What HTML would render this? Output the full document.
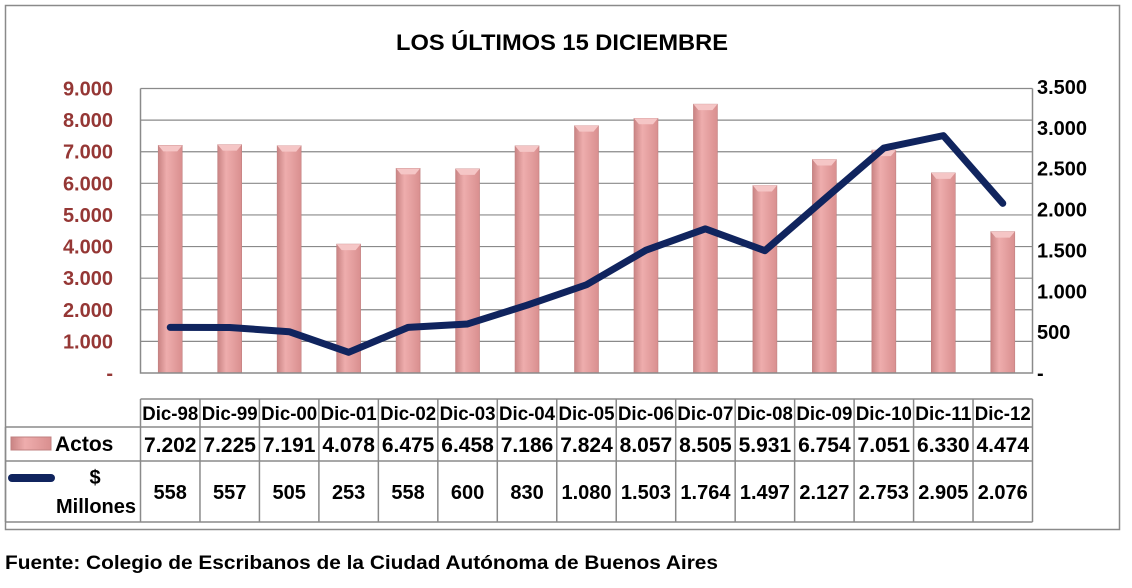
<!DOCTYPE html>
<html><head><meta charset="utf-8"><style>
body{margin:0;background:#fff;font-family:"Liberation Sans",sans-serif;}
</style></head><body>
<svg id="c" width="1132" height="583" xmlns="http://www.w3.org/2000/svg" font-family="Liberation Sans, sans-serif" font-weight="bold">
<defs>
<linearGradient id="bg" x1="0" x2="1" y1="0" y2="0">
<stop offset="0" stop-color="#c98383"/><stop offset="0.35" stop-color="#eeadad"/><stop offset="1" stop-color="#d98f8f"/>
</linearGradient>
</defs>
<rect x="5.5" y="5.5" width="1114" height="524" fill="#fff" stroke="#8a8a8a" stroke-width="1.5"/>
<text x="396" y="50" font-size="22" textLength="332" lengthAdjust="spacingAndGlyphs" fill="#000">LOS ÚLTIMOS 15 DICIEMBRE</text>
<g id="grid"></g><g id="bars"></g><g id="line"></g><g id="axes"></g><g id="table"></g>
<text x="5" y="569" font-size="19" textLength="713" lengthAdjust="spacingAndGlyphs" fill="#000">Fuente: Colegio de Escribanos de la Ciudad Autónoma de Buenos Aires</text>
</svg>
<script>
const categories=["Dic-98","Dic-99","Dic-00","Dic-01","Dic-02","Dic-03","Dic-04","Dic-05","Dic-06","Dic-07","Dic-08","Dic-09","Dic-10","Dic-11","Dic-12"];
const actos=[7202,7225,7191,4078,6475,6458,7186,7824,8057,8505,5931,6754,7051,6330,4474];
const millones=[558,557,505,253,558,600,830,1080,1503,1764,1497,2127,2753,2905,2076];
const leftTicks=[0,1000,2000,3000,4000,5000,6000,7000,8000,9000];
const rightTicks=[0,500,1000,1500,2000,2500,3000,3500];
const NS="http://www.w3.org/2000/svg";
const X0=140.5,X1=1032.5,Y0=373,YT=88.5;
const cw=(X1-X0)/categories.length;
const yL=v=>Y0-v/9000*(Y0-YT);
const yR=v=>Y0-v/3500*(Y0-YT+1.5);
const xC=i=>X0+cw*(i+0.5);
const fmt=v=>v===0?"-":v.toLocaleString("de-DE");
function mk(t,a,p){const e=document.createElementNS(NS,t);for(const k in a)e.setAttribute(k,a[k]);document.getElementById(p).appendChild(e);return e;}
leftTicks.forEach(v=>{
 if(v>0){const g=mk("line",{x1:X0,x2:X1,y1:yL(v),y2:yL(v),stroke:"#8a8a8a","stroke-width":1.2},"grid");
 
 }
 const t=mk("text",{x:113,y:yL(v)+7,"font-size":20,"text-anchor":"end",fill:"#953735"},"axes");t.textContent=fmt(v);
 
 
});
rightTicks.forEach(v=>{
 const t=mk("text",{x:1037,y:yR(v)+7,"font-size":20,fill:"#000"},"axes");t.textContent=fmt(v);
 
 
});
const ax=mk("path",{d:`M${X0},${YT}V${Y0}H${X1}V${YT}`,fill:"none",stroke:"#8a8a8a","stroke-width":1.5},"axes");


actos.forEach((v,i)=>{
 const r=mk("rect",{x:xC(i)-12,y:yL(v),width:24,height:Y0-yL(v),fill:"url(#bg)",stroke:"#c08080","stroke-width":0.6},"bars");
 
 
 const c=mk("path",{d:`M${xC(i)-12},${yL(v)}l5,6h14l5,-6z`,fill:"#f5c6c6"},"bars");
 
 
});
const pl=mk("polyline",{points:millones.map((v,i)=>xC(i)+","+yR(v)).join(" "),fill:"none",stroke:"#10245e","stroke-width":7,"stroke-linejoin":"round","stroke-linecap":"round"},"line");


const TY=[399,427,461,522];
const tg="table";
const tl=(x1,y1,x2,y2)=>{const l=mk("line",{x1,y1,x2,y2,stroke:"#8a8a8a","stroke-width":1.5},tg);};
tl(X0,TY[0],X1,TY[0]);tl(5.5,TY[1],X1,TY[1]);tl(5.5,TY[2],X1,TY[2]);tl(5.5,TY[3],X1,TY[3]);
tl(5.5,TY[1],5.5,TY[3]);
for(let i=0;i<=categories.length;i++)tl(X0+cw*i,TY[0],X0+cw*i,TY[3]);
categories.forEach((c,i)=>{
 const t=mk("text",{x:xC(i),y:420,"font-size":19,"text-anchor":"middle",fill:"#000",textLength:56,lengthAdjust:"spacingAndGlyphs"},tg);t.textContent=c;
 
 
 const a=mk("text",{x:xC(i),y:452,"font-size":21,"text-anchor":"middle",fill:"#000"},tg);a.textContent=fmt(actos[i]);
 
 
 const m=mk("text",{x:xC(i),y:499,"font-size":20,"text-anchor":"middle",fill:"#000"},tg);m.textContent=fmt(millones[i]);
 
 
});
const lk=mk("rect",{x:11,y:437,width:40,height:13,fill:"url(#bg)",stroke:"#c08080"},tg);

const lt=mk("text",{x:55,y:451,"font-size":21,fill:"#000"},tg);lt.textContent="Actos";

const ll=mk("line",{x1:12,y1:478,x2:51,y2:478,stroke:"#10245e","stroke-width":8,"stroke-linecap":"round"},tg);

const m1=mk("text",{x:95,y:484,"font-size":20,"text-anchor":"middle",fill:"#000"},tg);m1.textContent="$";

const m2=mk("text",{x:96,y:513,"font-size":20,"text-anchor":"middle",fill:"#000",textLength:80,lengthAdjust:"spacingAndGlyphs"},tg);m2.textContent="Millones";

</script>
</body></html>
